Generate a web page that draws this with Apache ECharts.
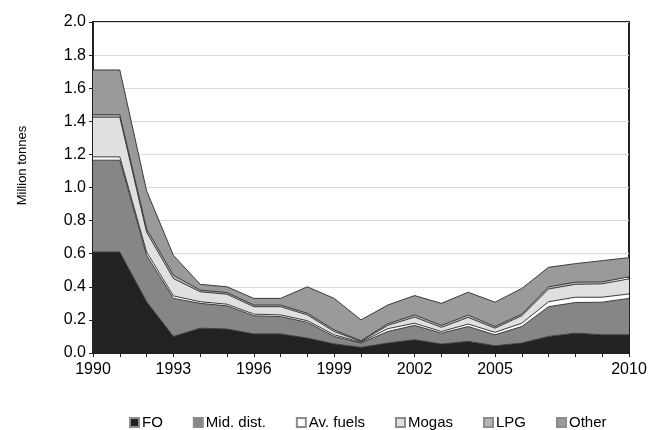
<!DOCTYPE html>
<html>
<head>
    <meta charset="UTF-8">
    <script type="text/javascript" src="https://cdn.jsdelivr.net/npm/echarts@6/dist/echarts.min.js"></script>
    <title>Million tonnes</title>
    <style>
        body { margin: 0; background: #fff; }
        #chart { width: 648px; height: 430px; }
    </style>
</head>
<body>
    <div id="chart"></div>
    <script type="text/javascript">
    // data (million tonnes)
    var years = ['1990', '1991', '1992', '1993', '1994', '1995', '1996', '1997', '1998', '1999', '2000',
        '2001', '2002', '2003', '2004', '2005', '2006', '2007', '2008', '2009', '2010'];
    var fo = [0.61, 0.61, 0.31, 0.10, 0.15, 0.145, 0.115, 0.115, 0.09, 0.055, 0.034,
        0.06, 0.08, 0.054, 0.07, 0.044, 0.06, 0.10, 0.12, 0.11, 0.11];
    var midDist = [0.555, 0.555, 0.28, 0.23, 0.15, 0.14, 0.11, 0.105, 0.095, 0.045, 0.026,
        0.07, 0.087, 0.066, 0.09, 0.066, 0.10, 0.18, 0.185, 0.197, 0.22];
    var avFuels = [0.02, 0.02, 0.02, 0.015, 0.01, 0.01, 0.01, 0.01, 0.01, 0.01, 0.005,
        0.017, 0.013, 0.01, 0.015, 0.015, 0.02, 0.03, 0.032, 0.03, 0.027];
    var mogas = [0.24, 0.24, 0.12, 0.105, 0.06, 0.06, 0.045, 0.05, 0.035, 0.02, 0.005,
        0.02, 0.037, 0.025, 0.04, 0.025, 0.045, 0.077, 0.078, 0.081, 0.091];
    var lpg = [0.015, 0.015, 0.02, 0.02, 0.01, 0.01, 0.01, 0.01, 0.01, 0.01, 0.004,
        0.01, 0.013, 0.012, 0.014, 0.01, 0.01, 0.013, 0.013, 0.012, 0.012];
    var other = [0.27, 0.27, 0.23, 0.12, 0.035, 0.035, 0.04, 0.04, 0.16, 0.19, 0.126,
        0.113, 0.117, 0.133, 0.138, 0.147, 0.155, 0.118, 0.112, 0.128, 0.116];
    var shownYears = ['1990', '1993', '1996', '1999', '2002', '2005', '2010'];

    var chart = echarts.init(document.getElementById('chart'));

    function layer(name, data, color) {
        return {
            name: name,
            type: 'line',
            stack: 'total',
            symbol: 'none',
            data: data,
            itemStyle: { color: color, borderColor: '#8c8c8c', borderWidth: 0.8 },
            lineStyle: { color: '#3a3a3a', width: 1 },
            areaStyle: { color: color, opacity: 1 }
        };
    }

    var option = {
        animation: false,
        textStyle: { fontFamily: 'Liberation Sans, Arial, sans-serif' },
        grid: {
            left: 93,
            right: 19,
            top: 22,
            bottom: 77,
            outerBoundsMode: 'none',
            show: true,
            borderColor: '#222',
            borderWidth: 2
        },
        legend: {
            top: 410,
            left: 124,
            padding: [5, 5, 2, 5],
            itemWidth: 9,
            itemHeight: 9,
            itemGap: 30,
            icon: 'rect',
            textStyle: { fontSize: 15, color: '#000', padding: [0, 0, 0, -2] },
            data: ['FO', 'Mid. dist.', 'Av. fuels', 'Mogas', 'LPG', 'Other']
        },
        xAxis: {
            type: 'category',
            boundaryGap: false,
            data: years,
            axisLine: { lineStyle: { color: '#222', width: 2 } },
            axisTick: {
                show: true,
                interval: 0,
                length: 4,
                lineStyle: { color: '#222' }
            },
            axisLabel: {
                interval: function (i, v) { return shownYears.indexOf(v) >= 0; },
                fontSize: 16,
                color: '#000',
                margin: 9
            },
            splitLine: { show: false }
        },
        yAxis: {
            type: 'value',
            min: 0,
            max: 2,
            interval: 0.2,
            name: 'Million tonnes',
            nameLocation: 'middle',
            nameGap: 64,
            nameTextStyle: { fontSize: 13, color: '#000', padding: [0, 0, 0, 44] },
            axisLine: { show: true, lineStyle: { color: '#222', width: 2 } },
            axisTick: { show: true, length: 4, lineStyle: { color: '#222' } },
            axisLabel: {
                fontSize: 16,
                color: '#000',
                margin: 7,
                formatter: function (v) { return v.toFixed(1); }
            },
            splitLine: { lineStyle: { color: '#d9d9d9', width: 1 } }
        },
        series: [
            layer('FO', fo, '#222222'),
            layer('Mid. dist.', midDist, '#868686'),
            layer('Av. fuels', avFuels, '#ffffff'),
            layer('Mogas', mogas, '#e0e0e0'),
            layer('LPG', lpg, '#b5b5b5'),
            layer('Other', other, '#9a9a9a')
        ]
    };
    chart.setOption(option);
    </script>
</body>
</html>
